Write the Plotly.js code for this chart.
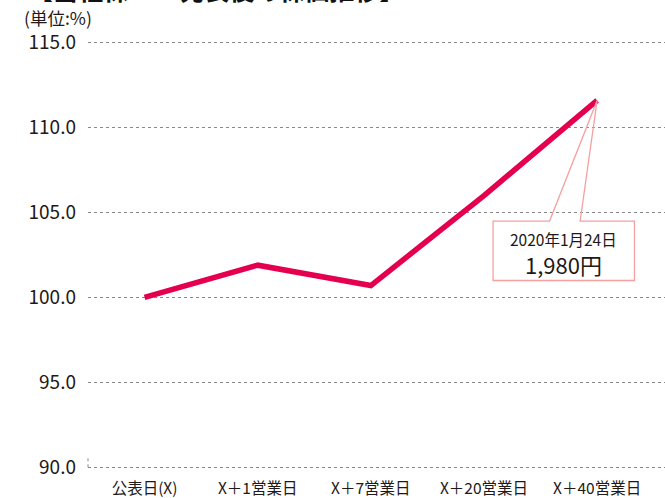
<!DOCTYPE html>
<html><head><meta charset="utf-8">
<script src="https://cdn.plot.ly/plotly-3.0.1.min.js"></script>
<style>html,body{margin:0;padding:0;background:#fff;}#chart{width:665px;height:498px;}</style>
</head><body><div id="chart"></div>
<script>
const categories = ["公表日(X)", "X＋1営業日", "X＋7営業日", "X＋20営業日", "X＋40営業日"];
const values = [100.0, 101.9, 100.7, 106.0, 111.6];
const yTicks = [90, 95, 100, 105, 110, 115];
const yTickLabels = ["90.0", "95.0", "100.0", "105.0", "110.0", "115.0"];
const calloutDate = "2020年1月24日";
const calloutPrice = "1,980円";

const font = "'Noto Sans CJK JP', 'Noto Sans', sans-serif";
const textColor = "#231815";
const pink = "#f4a0a0";
const last = values.length - 1;

// callout box (data coords relative to last point)
const bx0 = last - 0.92, bx1 = last + 0.33;
const by1 = 104.5, by0 = 101.0;
const tl = last - 0.42, tr = last - 0.15;
const path = `M ${bx0} ${by1} L ${tl} ${by1} L ${last} ${values[last]} L ${tr} ${by1} L ${bx1} ${by1} L ${bx1} ${by0} L ${bx0} ${by0} Z`;

const trace = {
  x: [0,1,2,3,4], y: values, type: "scatter", mode: "lines",
  line: {color: "#e4004f", width: 5.5},
  hoverinfo: "skip"
};

const layout = {
  width: 665, height: 498,
  margin: {l: 88, r: 0, t: 41, b: 29},
  paper_bgcolor: "#fff", plot_bgcolor: "#fff",
  showlegend: false,
  font: {family: font, color: textColor},
  xaxis: {
    range: [-0.5, 4.6], tickvals: [0,1,2,3,4], ticktext: categories,
    showgrid: false, zeroline: false, showline: false, ticks: "",
    tickfont: {size: 15.5, color: textColor, family: font},
    ticklabelstandoff: 8
  },
  yaxis: {
    range: [89.9, 115.1], tickvals: yTicks, ticktext: yTickLabels,
    showgrid: true, gridcolor: "#888", griddash: "dot", gridwidth: 1,
    zeroline: false, showline: false, ticks: "",
    tickfont: {size: 19, color: textColor, family: font},
    ticklabelstandoff: 11
  },
  shapes: [
    {type: "path", xref: "x", yref: "y", path: path,
     line: {color: pink, width: 1.3}, fillcolor: "rgba(255,255,255,0)", layer: "above"},
    {type: "line", xref: "paper", yref: "y", x0: 0, x1: 0, y0: 90, y1: 90.55,
     line: {color: "#888", width: 1, dash: "dot"}}
  ],
  annotations: [
    {text: "<b>【当社株TOB発表後の株価推移】</b>", xref: "paper", yref: "paper",
     x: -0.108, xanchor: "left", y: 1 + (41 - 9) / 428, yanchor: "bottom",
     showarrow: false, font: {size: 25, color: "#111", family: font}},
    {text: "(単位:%)", xref: "paper", yref: "paper",
     x: -0.115, xanchor: "left", y: 1 + (41 - 18) / 428, yanchor: "middle",
     showarrow: false, font: {size: 17.5, color: textColor, family: font}},
    {text: calloutDate, xref: "x", yref: "y", x: (bx0 + bx1) / 2, y: 103.45,
     showarrow: false, font: {size: 15.5, color: textColor, family: font}},
    {text: calloutPrice, xref: "x", yref: "y", x: (bx0 + bx1) / 2, y: 101.98,
     showarrow: false, font: {size: 22, color: textColor, family: font}}
  ]
};

Plotly.newPlot("chart", [trace], layout, {displayModeBar: false, staticPlot: true});
</script></body></html>
